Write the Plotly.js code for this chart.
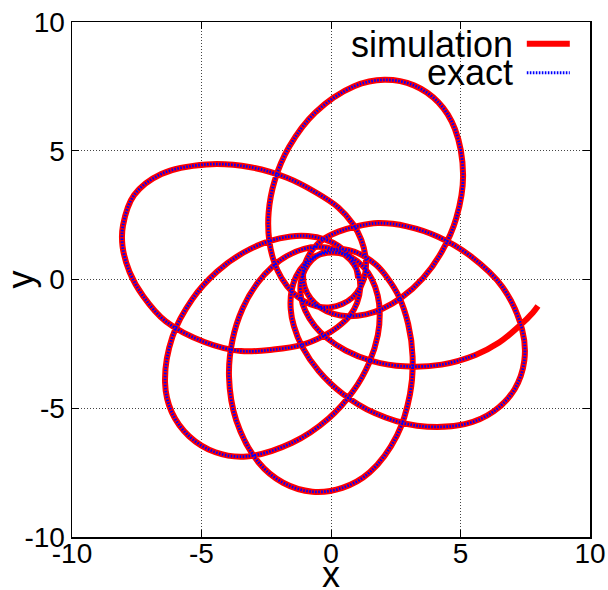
<!DOCTYPE html>
<html>
<head>
<meta charset="utf-8">
<script src="https://cdn.plot.ly/plotly-3.0.1.min.js"></script>
<style>
  html, body { margin: 0; padding: 0; background: #ffffff; }
  #chart { width: 608px; height: 590px; }
</style>
</head>
<body>
<div id="chart"></div>
<script>
// Orbit track shared by both runs, in time order from the first periapsis.
// Each row is one radial period (periapsis -> apoapsis -> periapsis).
const pathX = [
  1.048, 0.951, 0.703, 0.279, -0.218, -0.897, -1.56, -2.385, -3.393, -4.397, -5.347, -6.124, -6.407, -6.147, -5.48, -4.461, -3.264, -1.499, -0.094, 0.864, 1.476, 1.809, 1.881, 1.805, 1.567, 1.247, 0.792, 0.317, -0.155,
  -0.61, -1.018, -1.35, -1.523, -1.556, -1.433, -1.11, -0.474, 0.442, 1.685, 3.324, 5.166, 6.281, 7.089, 7.464, 7.379, 6.62, 5.378, 4.131, 2.928, 1.81, 0.93, 0.29, -0.31, -0.713, -0.991, -1.079, -1.007,
  -0.783, -0.42, 0.101, 0.655, 1.352, 1.988, 2.725, 3.549, 4.275, 4.84, 5.1, 4.783, 4.148, 3.2, 2.062, 0.894, -0.602, -1.615, -2.177, -2.407, -2.383, -2.19, -1.911, -1.487, -1.047, -0.514, -0.015, 0.435,
  0.836, 1.144, 1.327, 1.339, 1.168, 0.855, 0.28, -0.58, -1.7, -3.1, -4.8, -6.55, -7.6, -8.03, -8.05, -7.78, -7.25, -6.378, -4.887, -3.477, -2.22, -1.12, -0.3, 0.24, 0.728, 1.003, 1.128, 1.077, 0.883,
  0.557, 0.105, -0.479, -1.043, -1.702, -2.254, -2.838, -3.408, -3.798, -3.938, -3.66, -2.801, -1.848, -0.721, 0.438, 1.496, 2.55, 3.05, 3.15, 2.98, 2.62, 2.18, 1.75, 1.2, 0.7, 0.142, -0.347, -0.736,
  -1.008, -1.164, -1.158, -0.992, -0.623, -0.148, 0.565, 1.601, 2.839, 4.271, 5.58
];
const pathY = [
  0.055, 0.505, 0.933, 1.313, 1.552, 1.688, 1.673, 1.491, 1.038, 0.308, -0.752, -2.229, -4.004, -5.159, -6.086, -6.71, -6.87, -6.341, -5.399, -4.324, -3.226, -2.155, -1.302, -0.633, 0.033, 0.496, 0.858, 1.03, 1.037,
  0.901, 0.596, 0.111, -0.431, -1.143, -1.814, -2.615, -3.552, -4.43, -5.187, -5.68, -5.616, -5.122, -4.26, -3.152, -1.938, -0.29, 0.916, 1.661, 2.064, 2.19, 2.05, 1.86, 1.553, 1.153, 0.641, 0.14, -0.327,
  -0.74, -1.09, -1.338, -1.424, -1.352, -1.133, -0.7, 0.05, 1.074, 2.393, 4.057, 5.848, 6.877, 7.539, 7.753, 7.502, 6.489, 5.153, 3.833, 2.609, 1.495, 0.665, 0.06, -0.495, -0.839, -1.049, -1.077, -0.955,
  -0.696, -0.288, 0.275, 0.844, 1.539, 2.147, 2.8, 3.38, 3.95, 4.36, 4.47, 4.1, 3.28, 2.1, 1.3, 0.3, -0.65, -1.626, -2.427, -2.778, -2.72, -2.54, -2.2, -1.86, -1.406, -0.912, -0.347, 0.156, 0.585,
  0.935, 1.175, 1.267, 1.191, 0.913, 0.508, -0.134, -1.115, -2.324, -3.774, -5.47, -7.097, -7.893, -8.241, -8.092, -7.486, -6.05, -4.45, -3.0, -1.73, -0.66, 0.06, 0.56, 0.95, 1.14, 1.172, 1.031, 0.761,
  0.379, -0.1, -0.677, -1.213, -1.809, -2.283, -2.756, -3.169, -3.372, -3.305, -2.93
];

// The simulation runs a little longer than the exact solution.
const simTailX = [6.49, 7.27, 7.79, 7.99];
const simTailY = [-2.45, -1.81, -1.29, -1.03];

const tickValues = [-10, -5, 0, 5, 10];
const tickLabels = ['-10', '-5', '0', '5', '10'];
const seriesNames = ['simulation', 'exact'];

const FONT = 'Liberation Sans, Arial, Helvetica, sans-serif';
const RED = '#ff0000';
const BLUE = '#0000ff';
const BLUE_DASH = '1.6px,1.4px';

const simulation = {
  x: pathX.concat(simTailX),
  y: pathY.concat(simTailY),
  type: 'scatter',
  mode: 'lines',
  name: seriesNames[0],
  line: { color: RED, width: 6, shape: 'spline', smoothing: 1 },
  hoverinfo: 'skip'
};

const exact = {
  x: pathX,
  y: pathY,
  type: 'scatter',
  mode: 'lines',
  name: seriesNames[1],
  line: { color: BLUE, width: 2.8, dash: BLUE_DASH, shape: 'spline', smoothing: 1 },
  hoverinfo: 'skip'
};

function axis(titleText, labelShift) {
  return {
    range: [-10, 10],
    tickmode: 'array',
    tickvals: tickValues,
    ticktext: tickLabels,
    ticks: 'inside',
    ticklen: 7,
    tickwidth: 1,
    tickcolor: '#000000',
    ticklabelstandoff: labelShift,
    showline: true,
    linecolor: '#000000',
    linewidth: 1.5,
    mirror: 'ticks',
    showgrid: true,
    gridcolor: '#444444',
    gridwidth: 1,
    griddash: '1px,2px',
    zeroline: false,
    tickfont: { family: FONT, size: 28, color: '#000000' },
    title: { text: titleText, font: { family: FONT, size: 36, color: '#000000' }, standoff: 0 },
    fixedrange: true
  };
}

const layout = {
  width: 608,
  height: 590,
  margin: { l: 72, r: 18, t: 22, b: 53 },
  paper_bgcolor: '#ffffff',
  plot_bgcolor: '#ffffff',
  showlegend: false,
  // the x title sits below the margin edge, so it is placed as an annotation
  xaxis: axis('', -9),
  yaxis: axis('y', 0),
  shapes: [
    // key box
    { type: 'rect', xref: 'paper', yref: 'paper', x0: 0.52, x1: 0.99, y0: 0.872, y1: 0.992,
      fillcolor: '#ffffff', line: { width: 0 }, layer: 'between' },
    // key samples
    { type: 'line', xref: 'paper', yref: 'paper', x0: 0.878, x1: 0.961, y0: 0.958, y1: 0.958,
      line: { color: RED, width: 6 } },
    { type: 'line', xref: 'paper', yref: 'paper', x0: 0.878, x1: 0.961, y0: 0.9015, y1: 0.9015,
      line: { color: BLUE, width: 2.8, dash: BLUE_DASH } }
  ],
  annotations: [
    { xref: 'paper', yref: 'paper', x: 0.855, y: 0.957, xanchor: 'right', yanchor: 'middle',
      text: seriesNames[0], showarrow: false, font: { family: FONT, size: 36, color: '#000000' } },
    { xref: 'paper', yref: 'paper', x: 0.855, y: 0.901, xanchor: 'right', yanchor: 'middle',
      text: seriesNames[1], showarrow: false, font: { family: FONT, size: 36, color: '#000000' } },
    { xref: 'paper', yref: 'paper', x: 0.5, y: -0.073, xanchor: 'center', yanchor: 'middle',
      text: 'x', showarrow: false, font: { family: FONT, size: 36, color: '#000000' } }
  ]
};

Plotly.newPlot('chart', [simulation, exact], layout, { displayModeBar: false, staticPlot: true });
</script>
</body>
</html>
